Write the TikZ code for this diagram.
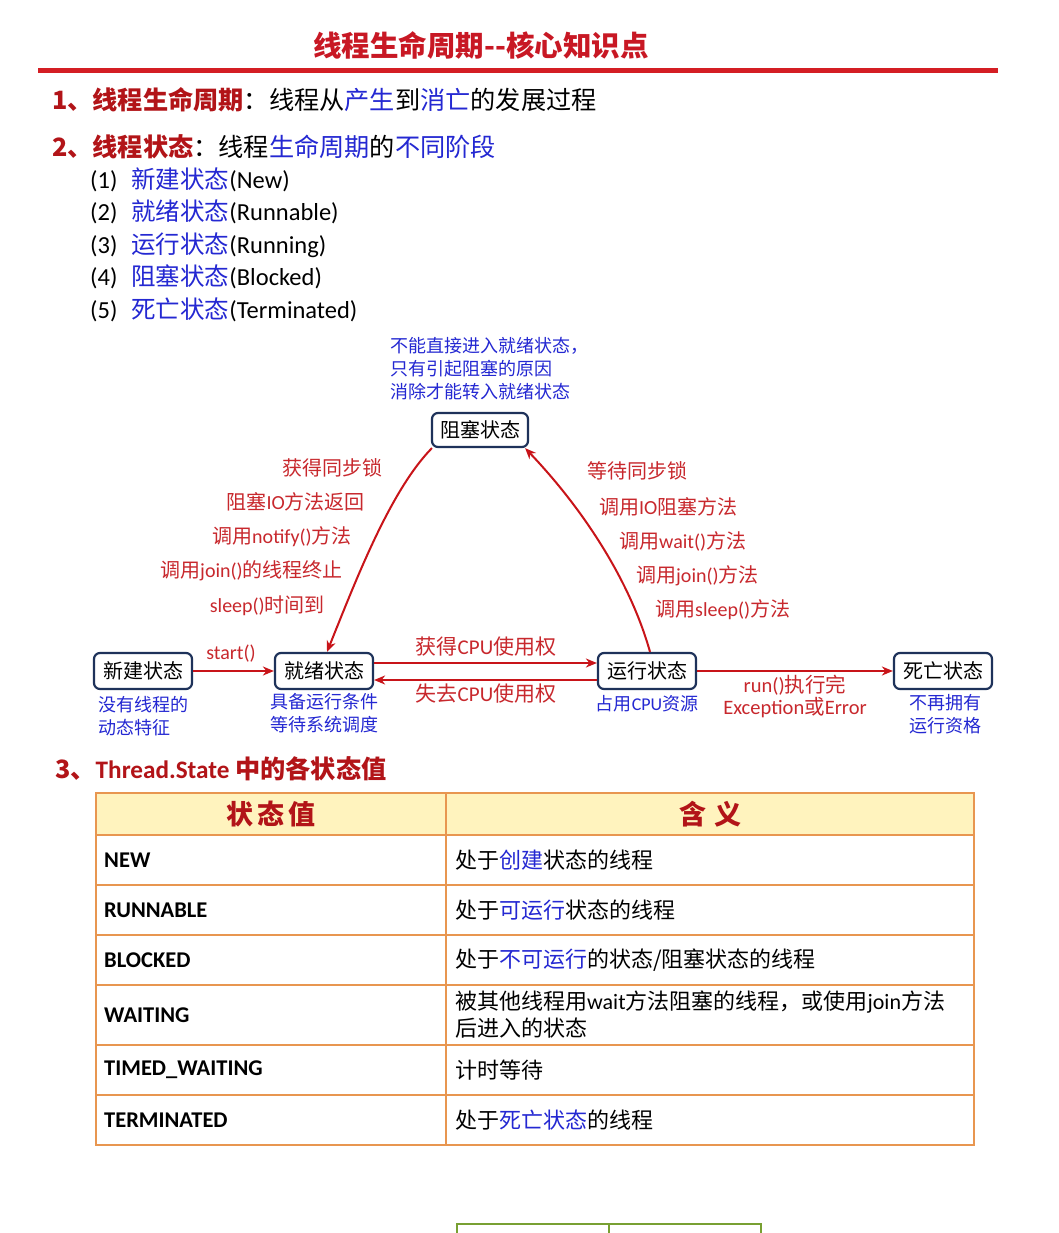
\documentclass[tikz,border=0pt]{standalone}
\usepackage{fontspec}
\setmainfont{Noto Sans CJK SC}
\newfontfamily\lat{Carlito}
\usetikzlibrary{arrows.meta}
\newcommand\E[1]{{\lat #1}}
\definecolor{titlered}{RGB}{200,24,36}
\definecolor{headred}{RGB}{178,20,24}
\definecolor{txtblue}{RGB}{36,40,210}
\definecolor{lblred}{RGB}{200,40,45}
\definecolor{arrred}{RGB}{200,20,25}
\definecolor{boxnavy}{RGB}{30,50,90}
\definecolor{tborder}{RGB}{232,150,80}
\definecolor{thead}{RGB}{255,243,190}
\definecolor{tgreen}{RGB}{120,160,50}
\definecolor{rulered}{RGB}{212,30,36}
\newcommand\B[1]{\textcolor{txtblue}{#1}}
\newcommand\R[1]{\textcolor{headred}{\bfseries #1}}
\begin{document}
\begin{tikzpicture}[x=1pt,y=-1pt,
  state/.style={draw=boxnavy, line width=2.2pt, rounded corners=6pt, fill=white,
    minimum width=98pt, minimum height=36pt, inner sep=2pt,
    font=\fontsize{20}{24}\selectfont},
  arr/.style={draw=arrred, line width=2pt, -{Stealth[length=11pt,width=9pt,inset=3.5pt]}},
  lbl/.style={text=lblred, font=\fontsize{20}{24}\selectfont, inner sep=0pt},
  note/.style={text=txtblue, font=\fontsize{18}{23}\selectfont, inner sep=0pt},
  head/.style={font=\fontsize{25.2}{30}\selectfont, inner sep=0pt, anchor=west},
  item/.style={font=\fontsize{24.5}{28}\selectfont, inner sep=0pt, anchor=west},
  cell/.style={font=\fontsize{22}{27}\selectfont, inner sep=0pt, anchor=west, align=left},
  key/.style={font=\fontsize{22.5}{26}\selectfont\lat\bfseries, inner sep=0pt, anchor=west},
  thh/.style={font=\fontsize{27}{32}\selectfont\bfseries, text=headred, inner sep=0pt},
  tline/.style={draw=tborder, line width=1.6pt}
]
\useasboundingbox (0,0) rectangle (1058,1233);
\fill[white] (0,0) rectangle (1058,1233);

% title
\node[font=\fontsize{28.5}{34}\selectfont\bfseries, text=titlered, inner sep=0pt] (title) at (481,45) {线程生命周期{-}{-}核心知识点};
\draw[draw=rulered, line width=5pt] (38,71) -- (998,71);

% section 1,2
\node[head] (s1) at (52,100) {\R{1、线程生命周期}：线程从\B{产生}到\B{消亡}的发展过程};
\node[head] (s2) at (52,147) {\R{2、线程状态}：线程\B{生命周期}的\B{不同阶段}};
\node[item] (i1) at (90,180) {\E{(1)}\hspace{14pt}\B{新建状态}\E{(New)}};
\node[item] (i2) at (90,212) {\E{(2)}\hspace{14pt}\B{就绪状态}\E{(Runnable)}};
\node[item] (i3) at (90,245) {\E{(3)}\hspace{14pt}\B{运行状态}\E{(Running)}};
\node[item] (i4) at (90,277) {\E{(4)}\hspace{14pt}\B{阻塞状态}\E{(Blocked)}};
\node[item] (i5) at (90,310) {\E{(5)}\hspace{14pt}\B{死亡状态}\E{(Terminated)}};

% blocked note
\node[note, anchor=north west, align=left] (bnote) at (390,337.5) {不能直接进入就绪状态，\\只有引起阻塞的原因\\消除才能转入就绪状态};

% state boxes
\node[state, minimum width=96pt, minimum height=34pt] (zs) at (480,430) {阻塞状态};
\node[state] (xj) at (143,671) {新建状态};
\node[state] (jx) at (324,671) {就绪状态};
\node[state] (yx) at (647,671) {运行状态};
\node[state] (sw) at (943,671) {死亡状态};

% left labels
\node[lbl, anchor=east] (l1) at (383,468) {获得同步锁};
\node[lbl, anchor=east] (l2) at (365,502) {阻塞\E{IO}方法返回};
\node[lbl, anchor=east] (l3) at (352,537) {调用\E{notify()}方法};
\node[lbl, anchor=east] (l4) at (343,571) {调用\E{join()}的线程终止};
\node[lbl, anchor=east] (l5) at (325,606) {\E{sleep()}时间到};
% right labels
\node[lbl, anchor=west] (r1) at (587,471) {等待同步锁};
\node[lbl, anchor=west] (r2) at (599,507) {调用\E{IO}阻塞方法};
\node[lbl, anchor=west] (r3) at (619,541) {调用\E{wait()}方法};
\node[lbl, anchor=west] (r4) at (636,576) {调用\E{join()}方法};
\node[lbl, anchor=west] (r5) at (655,610) {调用\E{sleep()}方法};

% connectors
\draw[arr] ([xshift=1pt]zs.south west) .. controls (390,491) and (356,580) .. ([xshift=3pt]jx.north);
\draw[arr] ([xshift=3pt]yx.north) .. controls (631,584) and (586,512) .. ([xshift=-4pt]zs.south east);
\draw[arr] (xj.east) -- (jx.west);
\draw[arr] ([yshift=8pt]jx.east) -- ([yshift=8pt]yx.west);
\draw[arr] ([yshift=-9pt]yx.west) -- ([yshift=-9pt]jx.east);
\draw[arr] (yx.east) -- (sw.west);

% transition labels
\node[lbl] (tstart) at (231,654) {\E{start()}};
\node[lbl, font=\fontsize{21}{25}\selectfont] (tget) at (486,647) {获得\E{CPU}使用权};
\node[lbl, font=\fontsize{21}{25}\selectfont] (tlose) at (486,694) {失去\E{CPU}使用权};
\node[lbl, align=center, anchor=north, font=\fontsize{20.5}{22}\selectfont] (trun) at (795,675) {\E{run()}执行完\\\E{Exception}或\E{Error}};

% under labels
\node[note, anchor=north west, align=left] (u1) at (98,696) {没有线程的\\动态特征};
\node[note, anchor=north, align=center] (u2) at (324,693) {具备运行条件\\等待系统调度};
\node[note] (u3) at (647,704) {占用\E{CPU}资源};
\node[note, anchor=north, align=center] (u4) at (945,694) {不再拥有\\运行资格};

% section 3
\node[head, font=\fontsize{25.2}{30}\selectfont\bfseries, text=headred] (s3) at (55,769) {3、{\lat\bfseries Thread.State} 中的各状态值};

% table
\fill[thead] (96,793) rectangle (974,835);
\draw[tline] (96,793) rectangle (974,1145);
\foreach \yy in {835,885,935,985,1045,1095} \draw[tline] (96,\yy) -- (974,\yy);
\draw[tline] (446,793) -- (446,1145);
\node[thh] (h1) at (271,814) {状\hspace{4pt}态\hspace{4pt}值};
\node[thh] (h2) at (710,814) {含\hspace{8pt}义};

\node[key] (k1) at (104,860) {NEW};
\node[key] (k2) at (104,910) {RUNNABLE};
\node[key] (k3) at (104,960) {BLOCKED};
\node[key] (k4) at (104,1015) {WAITING};
\node[key] (k5) at (104,1070) {TIMED\_WAITING};
\node[key] (k6) at (104,1120) {TERMINATED};

\node[cell] (c1) at (455,860) {处于\B{创建}状态的线程};
\node[cell] (c2) at (455,910) {处于\B{可运行}状态的线程};
\node[cell] (c3) at (455,960) {处于\B{不可运行}的状态/阻塞状态的线程};
\node[cell] (c4) at (455,1015) {被其他线程用\E{wait}方法阻塞的线程，或使用\E{join}方法\\后进入的状态};
\node[cell] (c5) at (455,1070) {计时等待};
\node[cell] (c6) at (455,1120) {处于\B{死亡状态}的线程};

% green table fragment at bottom edge
\draw[tgreen, line width=1.6pt] (457,1234) -- (457,1224) -- (761,1224) -- (761,1234);
\draw[tgreen, line width=2.6pt] (609,1224) -- (609,1234);
\end{tikzpicture}
\end{document}
